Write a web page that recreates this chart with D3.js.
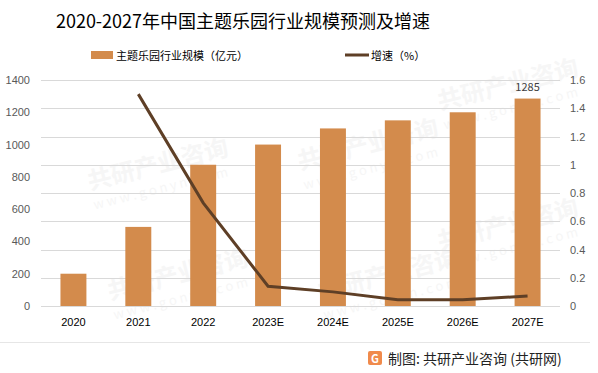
<!DOCTYPE html>
<html>
<head>
<meta charset="utf-8">
<script src="https://cdn.jsdelivr.net/npm/d3@7"></script>
<style>
    body { margin: 0; background: #fff; }
    svg { display: block; font-family: "Noto Sans CJK SC", "Noto Sans", sans-serif; }
</style>
</head>
<body>
<svg width="598" height="373"></svg>
<script>
    var years = ["2020", "2021", "2022", "2023E", "2024E", "2025E", "2026E", "2027E"];
    var scaleValues = [200, 490, 875, 1000, 1100, 1150, 1200, 1285]; // 亿元
    var growthValues = [null, 1.5, 0.73, 0.14, 0.1, 0.045, 0.044, 0.07];
    var leftTicks = [0, 200, 400, 600, 800, 1000, 1200, 1400];
    var rightTicks = [0, 0.2, 0.4, 0.6, 0.8, 1, 1.2, 1.4, 1.6];

    var margin = { top: 80, left: 41, right: 38, bottom: 67 };
    var width = 598, height = 373;
    var svg = d3.select("svg");

    // faint watermarks
    var marks = [[440, 110], [90, 190], [300, 170], [440, 250], [110, 300], [320, 300]];
    marks.forEach(function (p) {
        var g = svg.append("g")
            .attr("transform", "translate(" + p[0] + "," + p[1] + ") rotate(-14)");
        g.append("text").text("共研产业咨询")
            .attr("font-size", 24).attr("font-weight", "bold")
            .attr("fill", "#f6f6f6");
        g.append("text").text("w w w . g o n y n . c o m")
            .attr("y", 20).attr("font-size", 13)
            .attr("fill", "#f6f6f6");
    });

    var x = d3.scaleBand()
        .domain(years)
        .range([margin.left, width - margin.right])
        .paddingInner(0.6)
        .paddingOuter(0.3);
    var yLeft = d3.scaleLinear()
        .domain([0, 1400])
        .range([height - margin.bottom, margin.top]);
    var yRight = d3.scaleLinear()
        .domain([0, 1.6])
        .range([height - margin.bottom, margin.top]);

    // grid lines
    svg.append("g")
        .selectAll("line")
        .data(rightTicks)
        .join("line")
        .attr("x1", margin.left)
        .attr("x2", width - margin.right)
        .attr("y1", function (d) { return Math.round(yRight(d)) + 0.5; })
        .attr("y2", function (d) { return Math.round(yRight(d)) + 0.5; })
        .attr("stroke", "#d9d9d9");

    // left axis
    var leftAxis = svg.append("g")
        .attr("transform", "translate(" + (margin.left - 11) + ",0)")
        .call(d3.axisLeft(yLeft).tickValues(leftTicks).tickFormat(d3.format("d"))
            .tickSize(0).tickPadding(0));
    leftAxis.select(".domain").remove();
    leftAxis.selectAll("text").attr("fill", "#595959").attr("font-size", 11);

    // right axis
    var rightAxis = svg.append("g")
        .attr("transform", "translate(" + (width - margin.right + 10) + ",0)")
        .call(d3.axisRight(yRight).tickValues(rightTicks).tickFormat(d3.format(""))
            .tickSize(0).tickPadding(0));
    rightAxis.select(".domain").remove();
    rightAxis.selectAll("text").attr("fill", "#595959").attr("font-size", 11);

    // bars
    svg.append("g")
        .selectAll("rect")
        .data(scaleValues)
        .join("rect")
        .attr("x", function (d, i) { return x(years[i]); })
        .attr("width", x.bandwidth())
        .attr("y", function (d) { return yLeft(d); })
        .attr("height", function (d) { return yLeft(0) - yLeft(d); })
        .attr("fill", "#d38b4c");

    // label on last bar
    svg.append("text")
        .attr("x", x(years[7]) + x.bandwidth() / 2)
        .attr("y", yLeft(scaleValues[7]) - 8)
        .attr("text-anchor", "middle")
        .attr("font-size", 11)
        .attr("fill", "#404040")
        .text(scaleValues[7]);

    // x axis
    var xAxis = svg.append("g")
        .attr("transform", "translate(0," + (height - margin.bottom) + ")")
        .call(d3.axisBottom(x).tickSize(0).tickPadding(12));
    xAxis.select(".domain").remove();
    xAxis.selectAll("text").attr("fill", "#000").attr("font-size", 11);

    // growth line
    var line = d3.line()
        .defined(function (d) { return d !== null; })
        .x(function (d, i) { return x(years[i]) + x.bandwidth() / 2; })
        .y(function (d) { return yRight(d); });
    svg.append("path")
        .datum(growthValues)
        .attr("d", line)
        .attr("fill", "none")
        .attr("stroke", "#5e3f26")
        .attr("stroke-width", 3);

    // title
    svg.append("text")
        .attr("x", 243)
        .attr("y", 28)
        .attr("text-anchor", "middle")
        .attr("font-size", 18)
        .attr("fill", "#000")
        .text("2020-2027年中国主题乐园行业规模预测及增速");

    // legend
    svg.append("rect")
        .attr("x", 91).attr("y", 51).attr("width", 22).attr("height", 8)
        .attr("fill", "#d38b4c");
    svg.append("text")
        .attr("x", 116).attr("y", 59.5)
        .attr("font-size", 11).attr("fill", "#000")
        .text("主题乐园行业规模（亿元）");
    svg.append("line")
        .attr("x1", 345).attr("x2", 369).attr("y1", 55).attr("y2", 55)
        .attr("stroke", "#5e3f26").attr("stroke-width", 3);
    svg.append("text")
        .attr("x", 371).attr("y", 59.5)
        .attr("font-size", 11).attr("fill", "#000")
        .text("增速（%）");

    // footer
    svg.append("line")
        .attr("x1", 0).attr("x2", 590).attr("y1", 342.5).attr("y2", 342.5)
        .attr("stroke", "#e6e6e6");
    var logo = svg.append("g").attr("transform", "translate(368,351)");
    logo.append("rect").attr("width", 14).attr("height", 14).attr("rx", 2)
        .attr("fill", "#f08a4b");
    logo.append("text").attr("x", 7).attr("y", 11.5).attr("text-anchor", "middle")
        .attr("font-size", 11).attr("font-weight", "bold").attr("fill", "#fff")
        .text("G");
    svg.append("text")
        .attr("x", 388).attr("y", 364)
        .attr("font-size", 14).attr("fill", "#222")
        .text("制图: 共研产业咨询 (共研网)");
</script>
</body>
</html>
